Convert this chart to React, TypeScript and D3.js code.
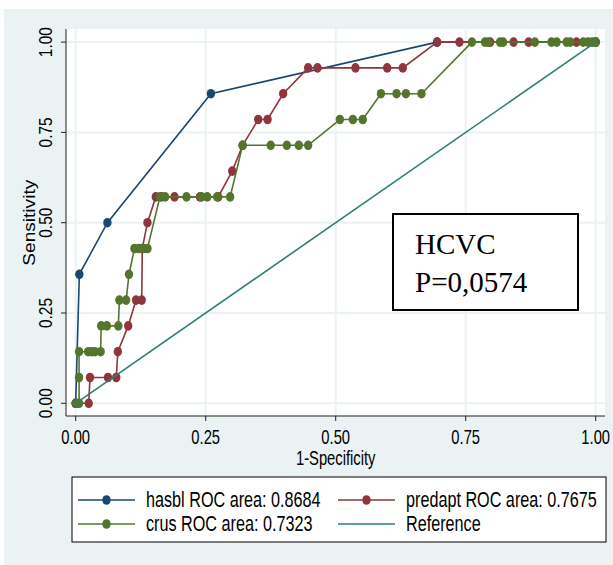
import React from 'react'
import * as d3 from 'd3'

// ROC points (1-specificity, sensitivity)
const hasblFpr = [0, 0.007, 0.061, 0.26, 0.695, 1]
const hasblSens = [0, 0.3571, 0.5, 0.8571, 1, 1]

const predaptFpr = [
  0, 0.025, 0.0275, 0.062, 0.078, 0.081, 0.101, 0.116, 0.127, 0.128, 0.138,
  0.154, 0.165, 0.19, 0.239, 0.274, 0.301, 0.321, 0.351, 0.369, 0.399,
  0.447, 0.465, 0.538, 0.599, 0.629, 0.695, 0.738, 0.797, 0.842, 0.871, 0.963, 1
]
const predaptSens = [
  0, 0, 0.0714, 0.0714, 0.0714, 0.1429, 0.2143, 0.2857, 0.2857, 0.4286, 0.5,
  0.5714, 0.5714, 0.5714, 0.5714, 0.5714, 0.6429, 0.7143, 0.7857, 0.7857, 0.8571,
  0.9286, 0.9286, 0.9286, 0.9286, 0.9286, 1, 1, 1, 1, 1, 1, 1
]

const crusFpr = [
  0, 0.0065, 0.0065, 0.0065, 0.024, 0.031, 0.037, 0.048, 0.049, 0.06, 0.082,
  0.084, 0.097, 0.1025, 0.113, 0.121, 0.13, 0.138, 0.162, 0.172, 0.213, 0.242,
  0.253, 0.272, 0.297, 0.321, 0.375, 0.406, 0.429, 0.447, 0.508, 0.533, 0.552,
  0.587, 0.617, 0.635, 0.665, 0.762, 0.787, 0.793, 0.816, 0.822, 0.883, 0.915,
  0.925, 0.944, 0.951, 0.976, 0.985, 0.993, 1
]
const crusSens = [
  0, 0, 0.0714, 0.1429, 0.1429, 0.1429, 0.1429, 0.1429, 0.2143, 0.2143, 0.2143,
  0.2857, 0.2857, 0.3571, 0.4286, 0.4286, 0.4286, 0.4286, 0.5714, 0.5714, 0.5714, 0.5714,
  0.5714, 0.5714, 0.5714, 0.7143, 0.7143, 0.7143, 0.7143, 0.7143, 0.7857, 0.7857, 0.7857,
  0.8571, 0.8571, 0.8571, 0.8571, 1, 1, 1, 1, 1, 1, 1,
  1, 1, 1, 1, 1, 1, 1
]

const refFpr = [0, 1]
const refSens = [0, 1]

const tickValues = [0, 0.25, 0.5, 0.75, 1]
const legendLabels = [
  'hasbl ROC area: 0.8684',
  'predapt ROC area: 0.7675',
  'crus ROC area: 0.7323',
  'Reference'
]

const NAVY = '#1a476f'
const MAROON = '#90353b'
const GREEN = '#55752f'
const TEAL = '#2f7c77'
const BG = '#eaf2f3'
const SANS = 'Liberation Sans, Arial, sans-serif'

const zip = (xs: number[], ys: number[]) => xs.map((v, i) => [v, ys[i]] as [number, number])

const series = [
  { name: 'hasbl', pts: zip(hasblFpr, hasblSens), color: NAVY, markers: true },
  { name: 'predapt', pts: zip(predaptFpr, predaptSens), color: MAROON, markers: true },
  { name: 'crus', pts: zip(crusFpr, crusSens), color: GREEN, markers: true },
  { name: 'ref', pts: zip(refFpr, refSens), color: TEAL, markers: false }
]

// text squeezed in screen coords (the Stata export looks narrow / stretched tall)
const NText = ({ x, y, size, anchor = 'start', rotate = false, sx = 0.82, sy = 1, children }: any) => (
  <text
    transform={`translate(${x},${y}) scale(${sx},${sy}) ${rotate ? 'rotate(-90)' : ''}`}
    fontFamily={SANS}
    fontSize={size}
    textAnchor={anchor}
    fill='#000'
  >
    {children}
  </text>
)

export default function App () {
  const plot = { left: 66, right: 605, top: 29, bottom: 416 }
  const x = d3.scaleLinear().domain([0, 1]).range([75.7, 595.7])
  const y = d3.scaleLinear().domain([0, 1]).range([403.3, 42.1])
  const line = d3.line<[number, number]>().x(d => x(d[0])).y(d => y(d[1]))

  const legendItems = [
    { label: legendLabels[0], color: NAVY, marker: true, lx: 78, ly: 500 },
    { label: legendLabels[1], color: MAROON, marker: true, lx: 338, ly: 500 },
    { label: legendLabels[2], color: GREEN, marker: true, lx: 78, ly: 524 },
    { label: legendLabels[3], color: TEAL, marker: false, lx: 338, ly: 524 }
  ]

  return (
    <svg width={613} height={565} style={{ position: 'absolute', left: 0, top: 0, background: '#fff' }}>
      <rect x={4} y={9} width={609} height={556} fill={BG} />
      <rect x={plot.left} y={plot.top} width={plot.right - plot.left} height={plot.bottom - plot.top} fill='#fff' />

      {/* grid */}
      {tickValues.map(t => (
        <g key={'g' + t}>
          <line x1={x(t)} x2={x(t)} y1={plot.top} y2={plot.bottom} stroke={BG} strokeWidth={2} />
          <line x1={plot.left} x2={plot.right} y1={y(t)} y2={y(t)} stroke={BG} strokeWidth={2} />
        </g>
      ))}

      {/* series */}
      {series.map(s => (
        <g key={s.name}>
          <path d={line(s.pts) || ''} fill='none' stroke={s.color} strokeWidth={1.6} />
          {s.markers && s.pts.map((p, i) => (
            <ellipse key={i} cx={x(p[0])} cy={y(p[1])} rx={4.2} ry={4.8} fill={s.color} />
          ))}
        </g>
      ))}

      {/* axes */}
      <line x1={plot.left} x2={plot.left} y1={plot.top} y2={plot.bottom} stroke='#222' strokeWidth={1} />
      <line x1={plot.left} x2={plot.right} y1={plot.bottom} y2={plot.bottom} stroke='#222' strokeWidth={1} />
      {tickValues.map(t => (
        <g key={'t' + t}>
          <line x1={plot.left - 5} x2={plot.left} y1={y(t)} y2={y(t)} stroke='#222' />
          <NText x={52} y={y(t)} size={18} anchor='middle' rotate sx={1} sy={0.86}>{d3.format('.2f')(t)}</NText>
          <line x1={x(t)} x2={x(t)} y1={plot.bottom} y2={plot.bottom + 5} stroke='#222' />
          <NText x={x(t)} y={444} size={18} anchor='middle' sy={1.1}>{d3.format('.2f')(t)}</NText>
        </g>
      ))}
      <NText x={(x(0) + x(1)) / 2} y={465} size={18} anchor='middle' sy={1.1}>1-Specificity</NText>
      <NText x={35} y={(y(0) + y(1)) / 2} size={18} anchor='middle' rotate sx={0.95} sy={1.06}>Sensitivity</NText>

      {/* annotation */}
      <rect x={393} y={214} width={185} height={96} fill='#fff' stroke='#000' strokeWidth={2} />
      <text x={415} y={254} fontFamily='Liberation Serif, Times New Roman, serif' fontSize={29}>HCVC</text>
      <text x={415} y={292} fontFamily='Liberation Serif, Times New Roman, serif' fontSize={29}>P=0,0574</text>

      {/* legend */}
      <rect x={72} y={477} width={534} height={65} fill='#fff' stroke='#000' strokeWidth={1} />
      {legendItems.map(it => (
        <g key={it.label}>
          <line x1={it.lx} x2={it.lx + 57} y1={it.ly} y2={it.ly} stroke={it.color} strokeWidth={1.6} />
          {it.marker && <ellipse cx={it.lx + 28.5} cy={it.ly} rx={4.2} ry={4.8} fill={it.color} />}
          <NText x={it.lx + 68} y={it.ly + 7} size={20} sx={0.81} sy={1.08}>{it.label}</NText>
        </g>
      ))}
    </svg>
  )
}
